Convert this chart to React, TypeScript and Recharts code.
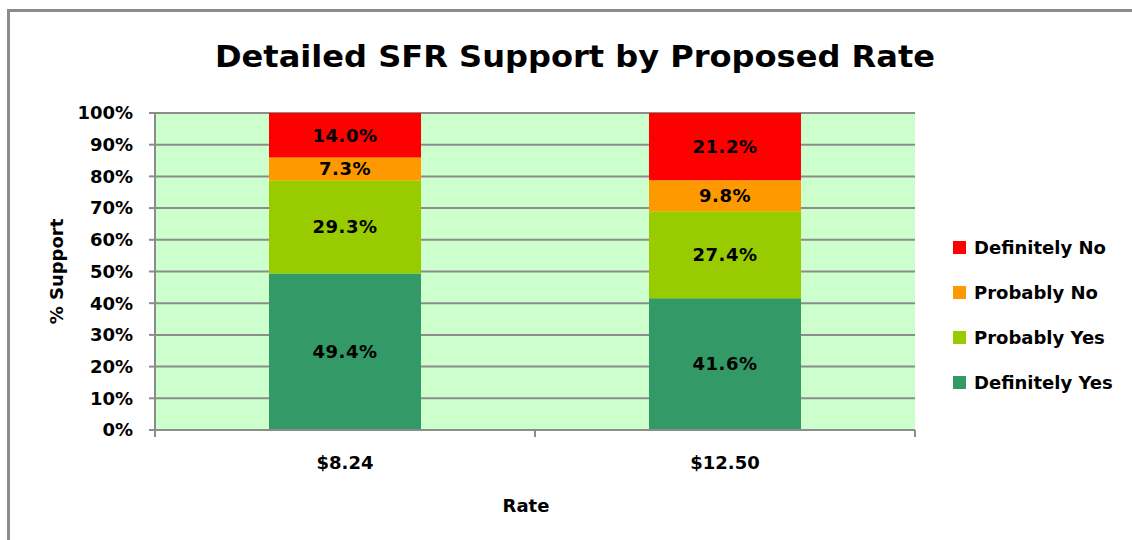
import { BarChart, Bar, XAxis, YAxis, CartesianGrid, LabelList } from "recharts"

// values (percent of respondents)
const rates = ["$8.24", "$12.50"]
const definitelyYes = [49.4, 41.6]
const probablyYes = [29.3, 27.4]
const probablyNo = [7.3, 9.8]
const definitelyNo = [14.0, 21.2]
const yTicks = [0, 10, 20, 30, 40, 50, 60, 70, 80, 90, 100]

const series = [
  { key: "definitelyYes", name: "Definitely Yes", color: "#339966" },
  { key: "probablyYes", name: "Probably Yes", color: "#99CC00" },
  { key: "probablyNo", name: "Probably No", color: "#FF9900" },
  { key: "definitelyNo", name: "Definitely No", color: "#FF0000" },
]

const data = rates.map((rate, i) => ({
  rate,
  definitelyYes: definitelyYes[i],
  probablyYes: probablyYes[i],
  probablyNo: probablyNo[i],
  definitelyNo: definitelyNo[i],
}))

const W = 1132
const H = 540
const FONT = "'DejaVu Sans', sans-serif"
const GREY = "#8c8c8c"
const MARGIN = { top: 113, right: 217, bottom: 30, left: 75 }
const Y_AXIS_W = 80
const X_AXIS_H = 80
const PLOT_W = W - MARGIN.left - MARGIN.right - Y_AXIS_W
const BAND = PLOT_W / rates.length

function RateTick(props: any) {
  const { x, y, payload, index } = props
  const left = x - BAND / 2
  // y here already includes tickSize + tickMargin, so step back to the axis line
  const axisY = y - 8
  return (
    <g>
      <line x1={left} x2={left} y1={axisY} y2={axisY + 7} stroke={GREY} strokeWidth={2} />
      {index === rates.length - 1 && (
        <line x1={x + BAND / 2} x2={x + BAND / 2} y1={axisY} y2={axisY + 7} stroke={GREY} strokeWidth={2} />
      )}
      <text x={x} y={y + 31} textAnchor="middle" fontFamily={FONT} fontWeight="bold" fontSize={18} fill="#000">
        {payload.value}
      </text>
    </g>
  )
}

export default function App() {
  return (
    <div style={{ position: "absolute", left: 0, top: 0, width: W, height: H, background: "#fff", overflow: "hidden" }}>
      <div
        style={{
          position: "absolute",
          left: 7,
          top: 9,
          width: W + 20,
          height: H + 20,
          borderTop: `3px solid ${GREY}`,
          borderLeft: `3px solid ${GREY}`,
        }}
      />
      <svg width={W} height={90} style={{ position: "absolute", left: 0, top: 0 }}>
        <text
          x={215}
          y={67}
          textLength={720}
          lengthAdjust="spacingAndGlyphs"
          fontFamily={FONT}
          fontWeight="bold"
          fontSize={30}
          fill="#000"
        >
          Detailed SFR Support by Proposed Rate
        </text>
      </svg>

      <div style={{ position: "absolute", left: 0, top: 0 }}>
        <BarChart width={W} height={H} data={data} margin={MARGIN} barCategoryGap="30%">
          <CartesianGrid
            vertical={false}
            stroke={GREY}
            strokeWidth={2}
            fill="#CCFFCC"
            fillOpacity={1}
          />
          <XAxis
            dataKey="rate"
            height={X_AXIS_H}
            axisLine={{ stroke: GREY, strokeWidth: 2 }}
            tickLine={false}
            tick={<RateTick />}
            interval={0}
            label={{
              value: "Rate",
              position: "insideBottom",
              offset: -2,
              dx: -9,
              fontFamily: FONT,
              fontWeight: "bold",
              fontSize: 18,
              fill: "#000",
            }}
          />
          <YAxis
            width={Y_AXIS_W}
            domain={[0, 100]}
            ticks={yTicks}
            interval={0}
            tickFormatter={(v: number) => `${v}%`}
            axisLine={{ stroke: GREY, strokeWidth: 2 }}
            tickLine={{ stroke: GREY, strokeWidth: 2 }}
            tickSize={6}
            tickMargin={16}
            tick={{ fontFamily: FONT, fontWeight: "bold", fontSize: 18, fill: "#000" }}
            label={({ viewBox }: any) => (
              <text
                x={63}
                y={viewBox.y + viewBox.height / 2}
                transform={`rotate(-90 63 ${viewBox.y + viewBox.height / 2})`}
                textAnchor="middle"
                fontFamily={FONT}
                fontWeight="bold"
                fontSize={18}
                fill="#000"
              >
                % Support
              </text>
            )}
          />
          {series.map((s) => (
            <Bar key={s.key} dataKey={s.key} name={s.name} stackId="a" fill={s.color} isAnimationActive={false}>
              <LabelList
                dataKey={s.key}
                position="center"
                formatter={(v: any) => `${Number(v).toFixed(1)}%`}
                style={{ fontFamily: FONT, fontWeight: "bold", fontSize: 18, fill: "#000", letterSpacing: 0.5 }}
              />
            </Bar>
          ))}
        </BarChart>
      </div>

      <div style={{ position: "absolute", left: 953, top: 225 }}>
        {[...series].reverse().map((s) => (
          <div key={s.key} style={{ display: "flex", alignItems: "center", height: 45 }}>
            <div style={{ width: 13, height: 13, background: s.color, marginRight: 8 }} />
            <span style={{ fontFamily: FONT, fontWeight: "bold", fontSize: 18, color: "#000", lineHeight: "24px" }}>
              {s.name}
            </span>
          </div>
        ))}
      </div>
    </div>
  )
}
